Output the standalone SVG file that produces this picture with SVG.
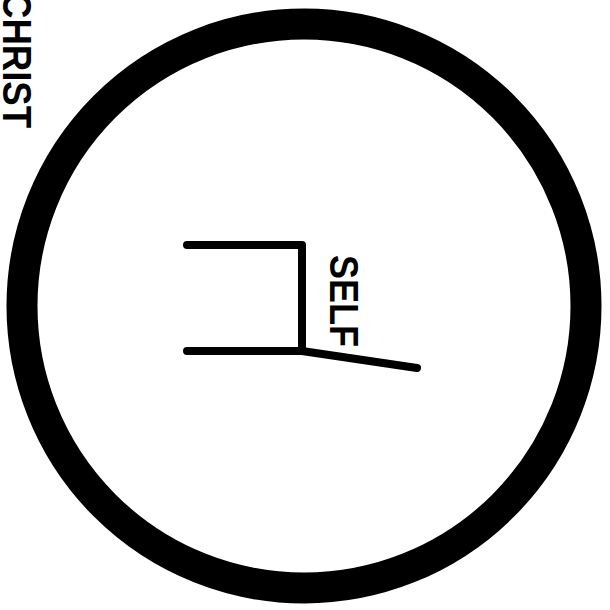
<svg xmlns="http://www.w3.org/2000/svg" width="610" height="610" viewBox="0 0 610 610">
<style>
.ln{fill:none;stroke:#000;stroke-width:8;stroke-linecap:round;stroke-linejoin:round}
.lbl{font-family:"Liberation Sans",Arial,sans-serif;font-weight:bold;font-size:41px;fill:#000}
</style>
<rect width="610" height="610" fill="#fff"/>
<g id="christ">
<circle cx="304" cy="306" r="282" fill="none" stroke="#000" stroke-width="31"/>
<text class="lbl" transform="translate(3,-8) rotate(90)" textLength="136" lengthAdjust="spacingAndGlyphs">CHRIST</text>
</g>
<g id="self">
<text class="lbl" transform="translate(330,255) rotate(90)" textLength="92" lengthAdjust="spacingAndGlyphs">SELF</text>
</g>
<g id="connectors">
<polyline class="ln" points="187,245 302,245 302,351 187,351"/>
<line class="ln" x1="302" y1="351" x2="417" y2="368"/>
</g>
</svg>
